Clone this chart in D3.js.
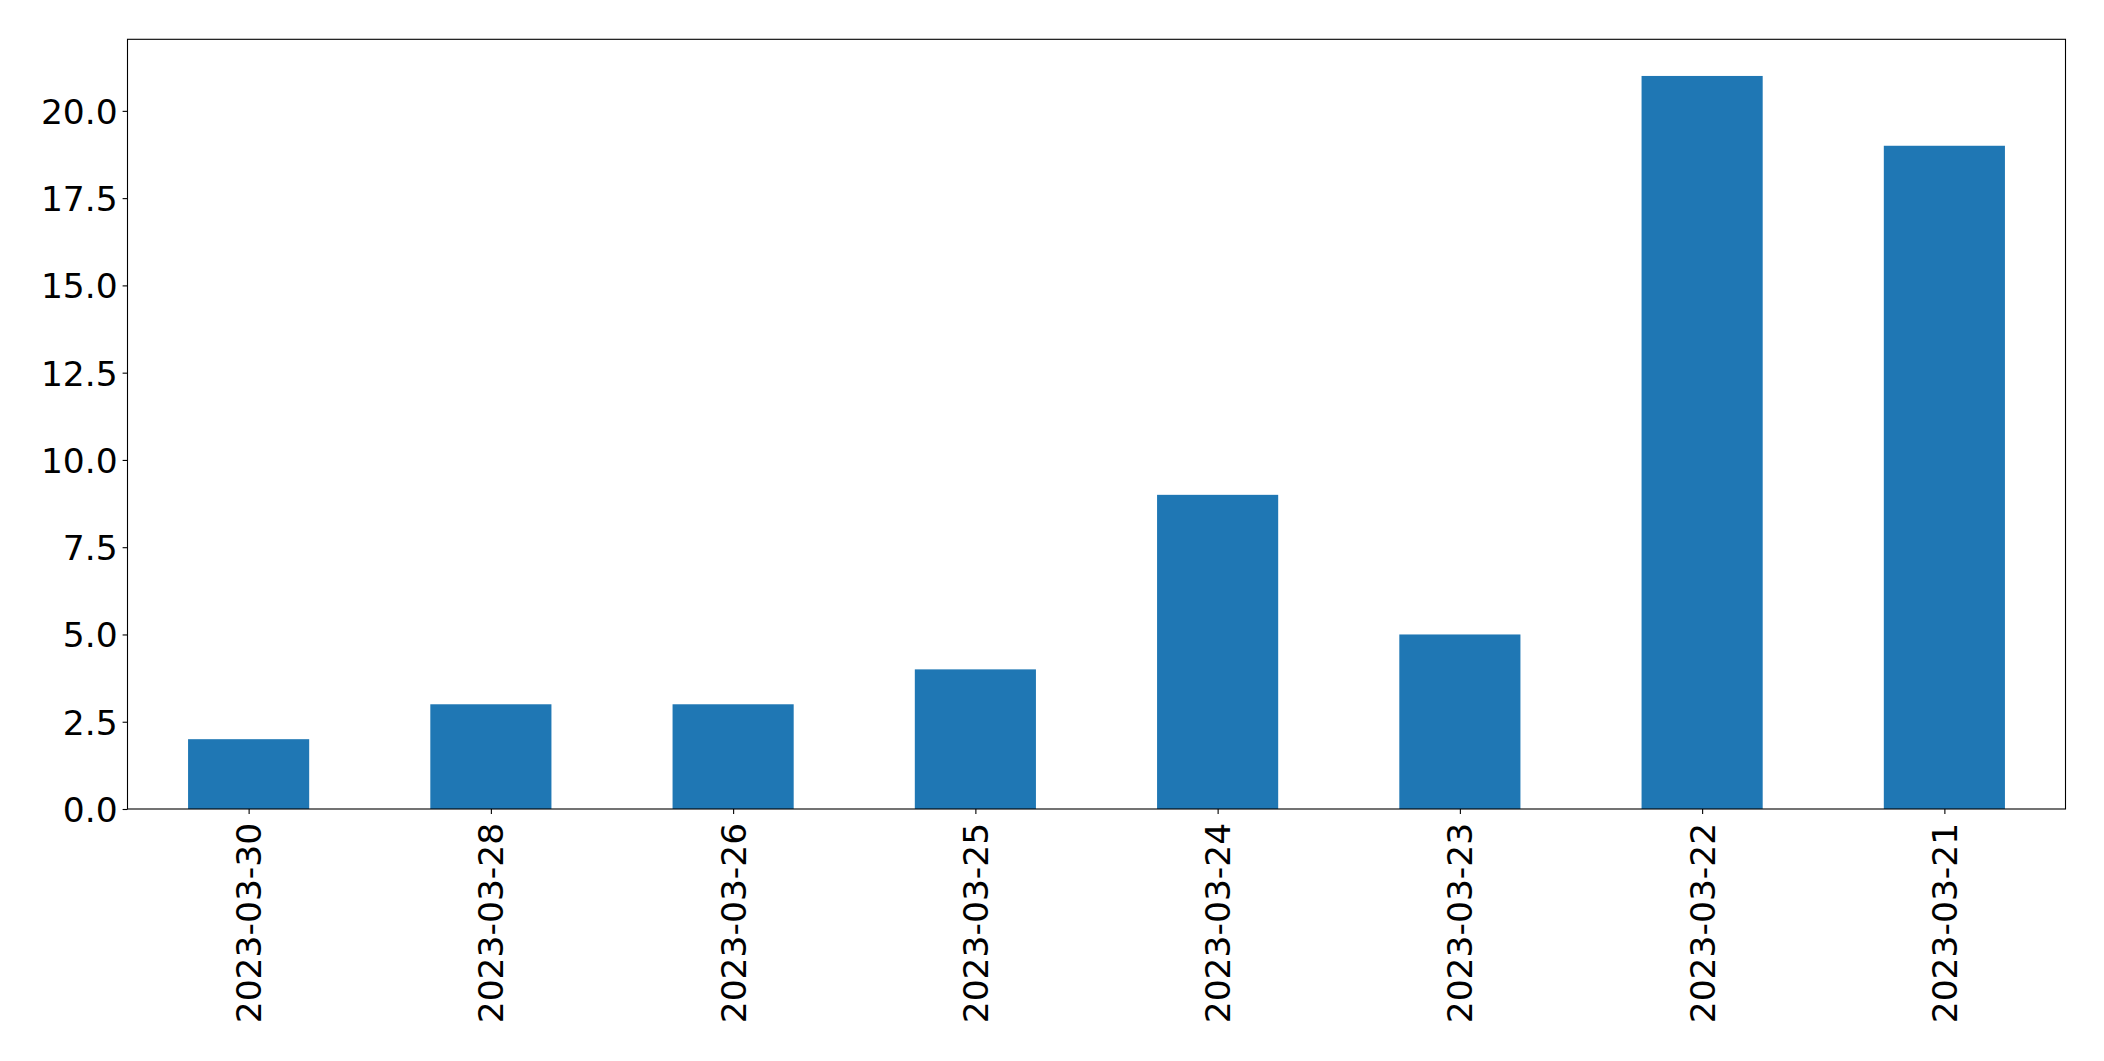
<!DOCTYPE html>
<html>
<head>
<meta charset="utf-8">
<script src="https://cdn.jsdelivr.net/npm/d3@7"></script>
<style>
  html, body { margin: 0; padding: 0; background: #fff; }
  svg { display: block; }
  text { font-family: "DejaVu Sans", sans-serif; fill: #000; }
</style>
</head>
<body>
<svg id="chart" width="2104" height="1061"></svg>
<script>
const categories = ["2023-03-30", "2023-03-28", "2023-03-26", "2023-03-25", "2023-03-24", "2023-03-23", "2023-03-22", "2023-03-21"];
const values = [2, 3, 3, 4, 9, 5, 21, 19];
const yTicks = [0, 2.5, 5, 7.5, 10, 12.5, 15, 17.5, 20];

const W = 2104, H = 1061;
const margin = { left: 127.5, right: 2065.5, top: 39.3, bottom: 809 };
const fontSize = 34.5;
const tickLen = 4.9, pad = 4.9;

const svg = d3.select("#chart");

// x: matplotlib bar layout, categories at integer positions, xlim [-0.5, n-0.5], bar width 0.5
const x = d3.scaleLinear().domain([-0.5, categories.length - 0.5]).range([margin.left, margin.right]);
const y = d3.scaleLinear().domain([0, d3.max(values) * 1.05]).range([margin.bottom, margin.top]);

// bars
svg.append("g").selectAll("rect").data(values).join("rect")
  .attr("x", (d, i) => x(i - 0.25))
  .attr("width", (d, i) => x(i + 0.25) - x(i - 0.25))
  .attr("y", d => y(d))
  .attr("height", d => y(0) - y(d))
  .attr("fill", "#1f77b4");

// y axis
const yAxis = d3.axisLeft(y).tickValues(yTicks).tickFormat(d3.format(".1f"))
  .tickSizeInner(tickLen).tickSizeOuter(0).tickPadding(pad);
const gy = svg.append("g").attr("transform", `translate(${margin.left},0)`).call(yAxis);
gy.select(".domain").remove();
gy.selectAll(".tick line").attr("stroke", "#000").attr("stroke-width", 1.1);
gy.selectAll(".tick text").attr("font-size", fontSize).attr("font-family", "DejaVu Sans").attr("fill", "#000").attr("dy", "0.36em");

// x axis ticks
const xAxis = d3.axisBottom(x).tickValues(d3.range(categories.length)).tickFormat(() => "")
  .tickSizeInner(tickLen).tickSizeOuter(0);
const gx = svg.append("g").attr("transform", `translate(0,${margin.bottom})`).call(xAxis);
gx.select(".domain").remove();
gx.selectAll(".tick line").attr("stroke", "#000").attr("stroke-width", 1.1);

// rotated x labels
svg.append("g").selectAll("text").data(categories).join("text")
  .attr("transform", (d, i) => `translate(${x(i)},${margin.bottom + tickLen + pad + 4}) rotate(-90)`)
  .attr("text-anchor", "end")
  .attr("dy", "0.36em")
  .attr("font-size", fontSize)
  .text(d => d);

// frame
svg.append("rect")
  .attr("x", margin.left).attr("y", margin.top)
  .attr("width", margin.right - margin.left).attr("height", margin.bottom - margin.top)
  .attr("fill", "none").attr("stroke", "#000").attr("stroke-width", 1.1);
</script>
</body>
</html>
